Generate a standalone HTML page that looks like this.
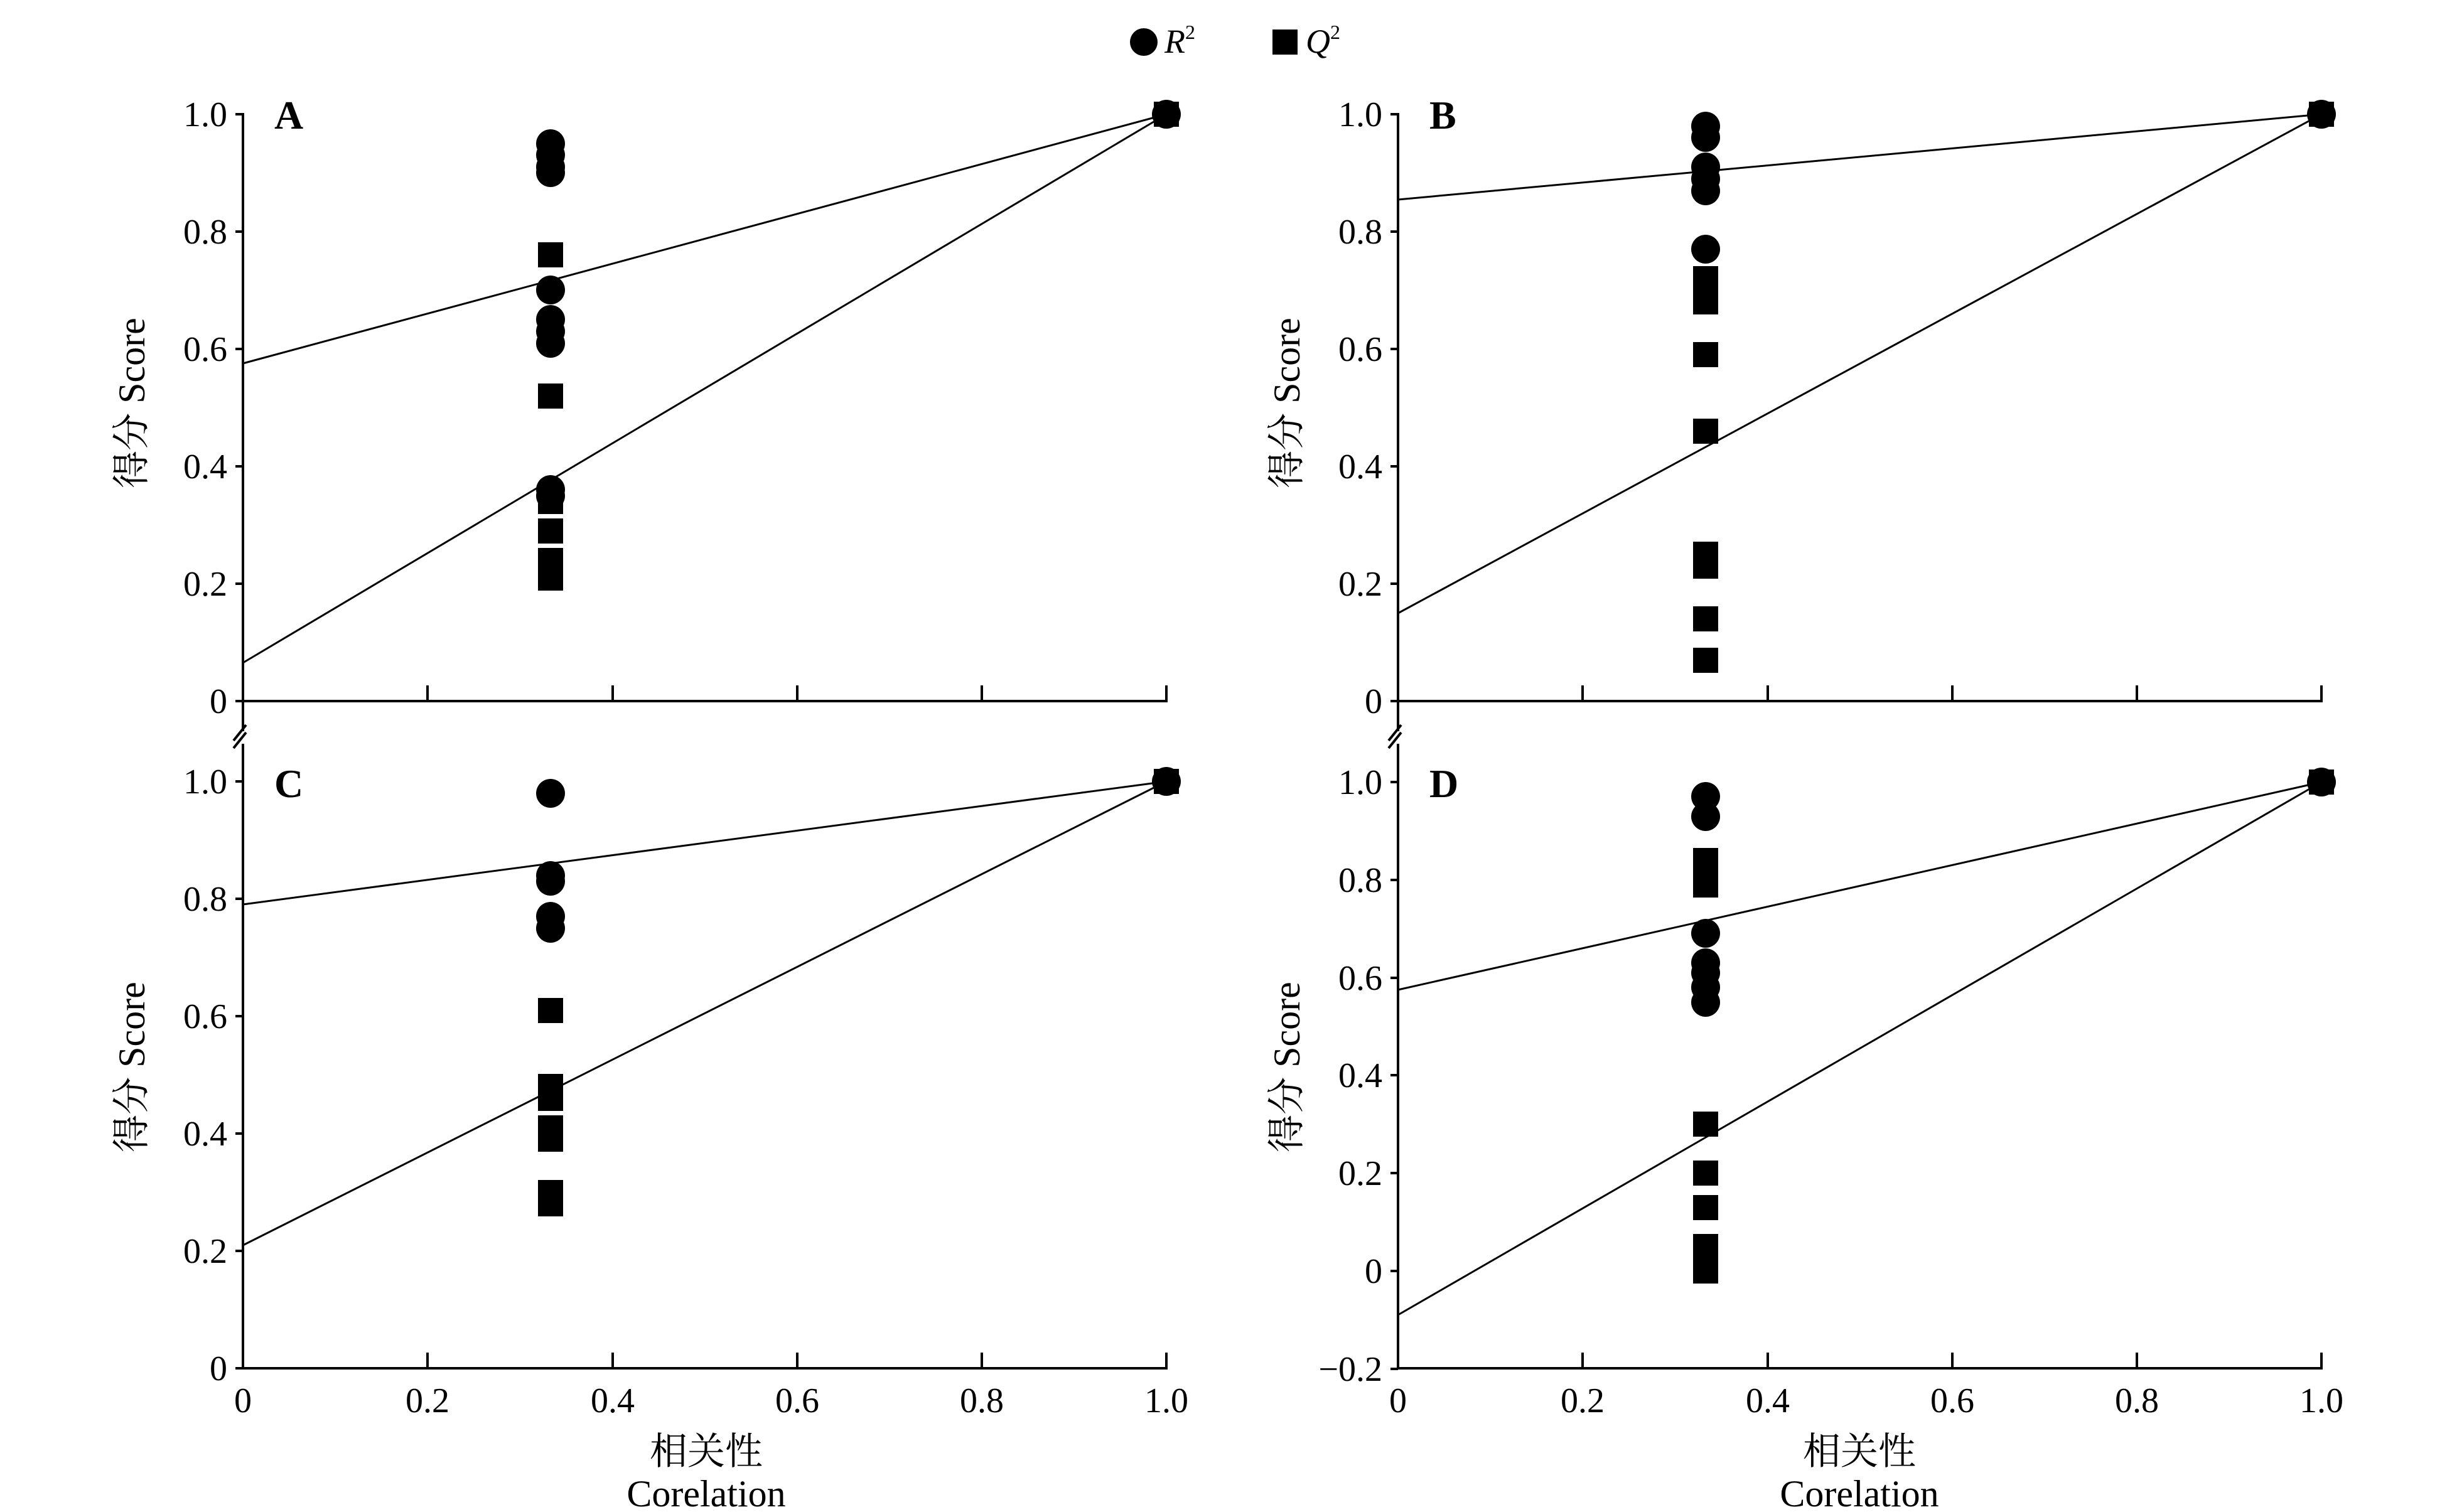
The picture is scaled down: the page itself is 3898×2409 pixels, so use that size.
<!DOCTYPE html>
<html><head><meta charset="utf-8"><style>
html,body{margin:0;padding:0;background:#fff}
svg{display:block}
text{font-family:"Liberation Serif","Noto Serif CJK SC","Noto Sans CJK SC",serif;fill:#000}
</style></head><body>
<svg width="3898" height="2409" viewBox="0 0 3898 2409" xmlns="http://www.w3.org/2000/svg">
<defs>
<g id="c"><circle r="23" fill="#000"/></g>
<g id="s"><rect x="-20" y="-20" width="40" height="40" fill="#000"/></g>
</defs>
<circle cx="1822" cy="67" r="22"/>
<text x="1855" y="84" font-size="54" font-style="italic">R<tspan font-size="32" dy="-22" font-style="normal">2</tspan></text>
<rect x="2027" y="47" width="40" height="40"/>
<text x="2080" y="84" font-size="54" font-style="italic">Q<tspan font-size="32" dy="-22" font-style="normal">2</tspan></text>

<g stroke="#000" stroke-width="4" fill="none">
<line x1="387" y1="180" x2="387" y2="1165"/>
<line x1="387" y1="1185" x2="387" y2="2182"/>
<line x1="2227" y1="180" x2="2227" y2="1165"/>
<line x1="2227" y1="1185" x2="2227" y2="2182"/>
<line x1="372" y1="1180" x2="392" y2="1155"/><line x1="372" y1="1192" x2="392" y2="1167"/>
<line x1="2212" y1="1180" x2="2232" y2="1155"/><line x1="2212" y1="1192" x2="2232" y2="1167"/>
<line x1="385" y1="1117" x2="1860" y2="1117"/>
<line x1="2225" y1="1117" x2="3700" y2="1117"/>
<line x1="385" y1="2180" x2="1860" y2="2180"/>
<line x1="2225" y1="2180" x2="3700" y2="2180"/>
<path d="M681 1117v-25M976 1117v-25M1270 1117v-25M1564 1117v-25M1858 1117v-25
M2521 1117v-25M2816 1117v-25M3110 1117v-25M3404 1117v-25M3698 1117v-25
M681 2180v-25M976 2180v-25M1270 2180v-25M1564 2180v-25M1858 2180v-25
M2521 2180v-25M2816 2180v-25M3110 2180v-25M3404 2180v-25M3698 2180v-25"/>
<path d="M387 182h-12M387 369h-12M387 556h-12M387 743h-12M387 930h-12M387 1117h-12
M2227 182h-12M2227 369h-12M2227 556h-12M2227 743h-12M2227 930h-12M2227 1117h-12
M387 1245h-12M387 1432h-12M387 1619h-12M387 1806h-12M387 1993h-12M387 2180h-12
M2227 1246h-12M2227 1402h-12M2227 1558h-12M2227 1713h-12M2227 1869h-12M2227 2025h-12M2227 2181h-12"/>
</g>
<g stroke="#000" stroke-width="3" fill="none">
<line x1="387" y1="579" x2="1858" y2="182"/>
<line x1="387" y1="1056" x2="1858" y2="182"/>
<line x1="2227" y1="318" x2="3698" y2="182"/>
<line x1="2227" y1="977" x2="3698" y2="182"/>
<line x1="387" y1="1441" x2="1858" y2="1245"/>
<line x1="387" y1="1984" x2="1858" y2="1245"/>
<line x1="2227" y1="1577" x2="3698" y2="1246"/>
<line x1="2227" y1="2095" x2="3698" y2="1246"/>
</g>
<g>
<use href="#c" x="877" y="229"/><use href="#c" x="877" y="247"/><use href="#c" x="877" y="266"/><use href="#c" x="877" y="275"/>
<use href="#c" x="877" y="462"/><use href="#c" x="877" y="509"/><use href="#c" x="877" y="528"/><use href="#c" x="877" y="547"/>
<use href="#c" x="877" y="780"/><use href="#c" x="877" y="790"/>
<use href="#s" x="877" y="406"/><use href="#s" x="877" y="631"/><use href="#s" x="877" y="799"/><use href="#s" x="877" y="846"/>
<use href="#s" x="877" y="893"/><use href="#s" x="877" y="911"/><use href="#s" x="877" y="921"/>
<use href="#s" x="1858" y="182"/><use href="#c" x="1858" y="182"/>
</g>
<g>
<use href="#c" x="2717" y="201"/><use href="#c" x="2717" y="219"/><use href="#c" x="2717" y="266"/><use href="#c" x="2717" y="285"/>
<use href="#c" x="2717" y="304"/><use href="#c" x="2717" y="397"/>
<use href="#s" x="2717" y="444"/><use href="#s" x="2717" y="481"/><use href="#s" x="2717" y="565"/><use href="#s" x="2717" y="687"/>
<use href="#s" x="2717" y="883"/><use href="#s" x="2717" y="902"/><use href="#s" x="2717" y="986"/><use href="#s" x="2717" y="1052"/>
<use href="#s" x="3698" y="182"/><use href="#c" x="3698" y="182"/>
</g>
<g>
<use href="#c" x="877" y="1264"/><use href="#c" x="877" y="1395"/><use href="#c" x="877" y="1404"/><use href="#c" x="877" y="1460"/><use href="#c" x="877" y="1479"/>
<use href="#s" x="877" y="1610"/><use href="#s" x="877" y="1731"/><use href="#s" x="877" y="1750"/><use href="#s" x="877" y="1797"/>
<use href="#s" x="877" y="1815"/><use href="#s" x="877" y="1900"/><use href="#s" x="877" y="1918"/>
<use href="#s" x="1858" y="1245"/><use href="#c" x="1858" y="1245"/>
</g>
<g>
<use href="#c" x="2717" y="1269"/><use href="#c" x="2717" y="1301"/><use href="#c" x="2717" y="1487"/><use href="#c" x="2717" y="1534"/>
<use href="#c" x="2717" y="1550"/><use href="#c" x="2717" y="1573"/><use href="#c" x="2717" y="1597"/>
<use href="#s" x="2717" y="1371"/><use href="#s" x="2717" y="1410"/><use href="#s" x="2717" y="1791"/><use href="#s" x="2717" y="1869"/>
<use href="#s" x="2717" y="1924"/><use href="#s" x="2717" y="1986"/><use href="#s" x="2717" y="2009"/><use href="#s" x="2717" y="2025"/>
<use href="#s" x="3698" y="1246"/><use href="#c" x="3698" y="1246"/>
</g>

<g font-size="64" font-weight="bold">
<text x="437" y="205">A</text><text x="2277" y="205">B</text>
<text x="437" y="1270">C</text><text x="2277" y="1270">D</text>
</g>
<g font-size="56" text-anchor="end">
<text x="362" y="201">1.0</text><text x="362" y="388">0.8</text><text x="362" y="575">0.6</text><text x="362" y="762">0.4</text><text x="362" y="949">0.2</text><text x="362" y="1136">0</text>
<text x="2202" y="201">1.0</text><text x="2202" y="388">0.8</text><text x="2202" y="575">0.6</text><text x="2202" y="762">0.4</text><text x="2202" y="949">0.2</text><text x="2202" y="1136">0</text>
<text x="362" y="1264">1.0</text><text x="362" y="1451">0.8</text><text x="362" y="1638">0.6</text><text x="362" y="1825">0.4</text><text x="362" y="2012">0.2</text><text x="362" y="2199">0</text>
<text x="2202" y="1265">1.0</text><text x="2202" y="1421">0.8</text><text x="2202" y="1577">0.6</text><text x="2202" y="1732">0.4</text><text x="2202" y="1888">0.2</text><text x="2202" y="2044">0</text><text x="2202" y="2200">−0.2</text>
</g>
<g font-size="56" text-anchor="middle">
<text x="387" y="2250">0</text><text x="681" y="2250">0.2</text><text x="976" y="2250">0.4</text><text x="1270" y="2250">0.6</text><text x="1564" y="2250">0.8</text><text x="1858" y="2250">1.0</text>
<text x="2227" y="2250">0</text><text x="2521" y="2250">0.2</text><text x="2816" y="2250">0.4</text><text x="3110" y="2250">0.6</text><text x="3404" y="2250">0.8</text><text x="3698" y="2250">1.0</text>
</g>
<g font-size="60" text-anchor="middle">
<text transform="translate(230,642) rotate(-90)">得分 Score</text>
<text transform="translate(230,1700) rotate(-90)">得分 Score</text>
<text transform="translate(2070,642) rotate(-90)">得分 Score</text>
<text transform="translate(2070,1700) rotate(-90)">得分 Score</text>
<text x="1125" y="2333">相关性</text>
<text x="1125" y="2400">Corelation</text>
<text x="2962" y="2333">相关性</text>
<text x="2962" y="2400">Corelation</text>
</g>
</svg>
</body></html>
